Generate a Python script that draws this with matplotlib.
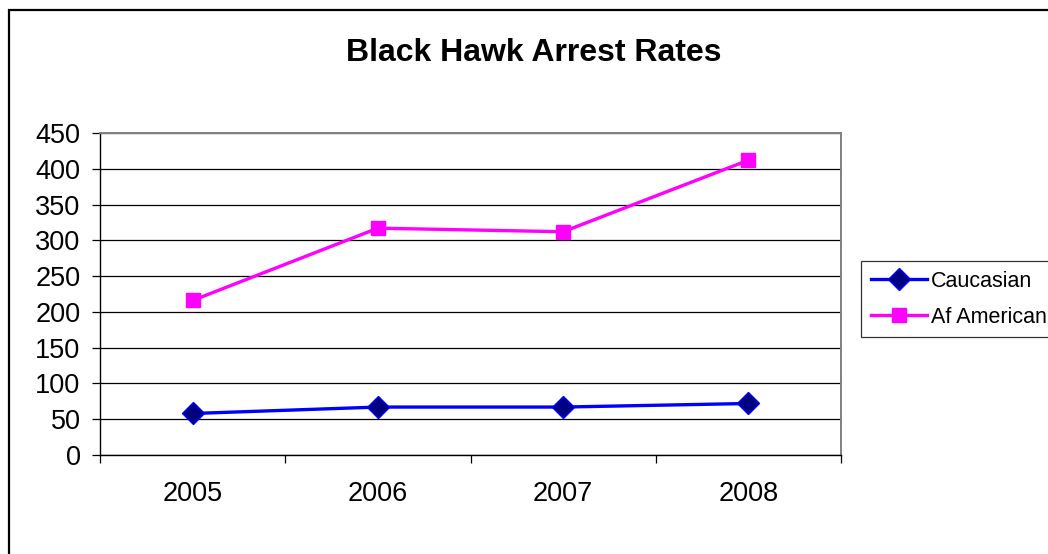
import matplotlib
matplotlib.use('Agg')
import matplotlib.pyplot as plt
from matplotlib.patches import Rectangle

plt.rcParams['font.family'] = ['Liberation Sans', 'DejaVu Sans']

# data
years = ['2005', '2006', '2007', '2008']
caucasian = [58, 67, 67, 72]
af_american = [216, 317, 312, 412]
y_ticks = [0, 50, 100, 150, 200, 250, 300, 350, 400, 450]

W, H = 1048, 554
fig = plt.figure(figsize=(W / 100, H / 100), dpi=100)
fig.patch.set_facecolor('white')

# outer chart border (only top and left edges are visible in the reference)
fig.patches.append(Rectangle((9 / W, -0.2), 2.0, 1 - 9.5 / H + 0.2,
                             transform=fig.transFigure, fill=False,
                             edgecolor='black', linewidth=1.6))

ax = fig.add_axes([100 / W, (H - 455) / H, 741 / W, 322 / H])
x = list(range(len(years)))

ax.plot(x, caucasian, color='#0000FF', linewidth=2.4, marker='D',
        markersize=11.5, markerfacecolor='#000080', markeredgecolor='#0000FF',
        markeredgewidth=1, label='Caucasian', zorder=4)
ax.plot(x, af_american, color='#FF00FF', linewidth=2.4, marker='s',
        markersize=9.5, markerfacecolor='#FF00FF', markeredgecolor='#FF00FF',
        label='Af American', zorder=4)

ax.set_xlim(-0.5, len(years) - 0.5)
ax.set_ylim(y_ticks[0], y_ticks[-1])
ax.set_yticks(y_ticks)
ax.yaxis.grid(True, color='black', linewidth=0.9)
ax.set_axisbelow(True)

# category boundaries get the tick marks, labels sit in between
ax.set_xticks([i - 0.5 for i in range(len(years) + 1)])
ax.set_xticklabels([])
ax.set_xticks(x, minor=True)
ax.set_xticklabels(years, minor=True)
ax.tick_params(axis='x', which='major', direction='out', length=6, width=0.9, color='black')
ax.tick_params(axis='x', which='minor', length=0, pad=19, labelsize=19.5)
ax.tick_params(axis='y', direction='out', length=6, width=0.9, pad=8, labelsize=19.5)

for side in ['left', 'bottom']:
    ax.spines[side].set_color('black')
    ax.spines[side].set_linewidth(1.0)
for side in ['top', 'right']:
    ax.spines[side].set_color('#808080')
    ax.spines[side].set_linewidth(1.4)

fig.text(534 / W, (H - 61) / H, 'Black Hawk Arrest Rates', ha='center',
         va='baseline', fontsize=23, fontweight='bold')

leg = ax.legend(loc='upper left', bbox_to_anchor=(861 / W, (H - 261) / H),
                bbox_transform=fig.transFigure, borderaxespad=0, fontsize=15.5,
                frameon=True, fancybox=False, edgecolor='black',
                handlelength=2.6, handletextpad=0.2, borderpad=0.45,
                labelspacing=0.7)
leg.get_frame().set_linewidth(0.9)

fig.savefig('out.png', dpi=100, facecolor='white')
